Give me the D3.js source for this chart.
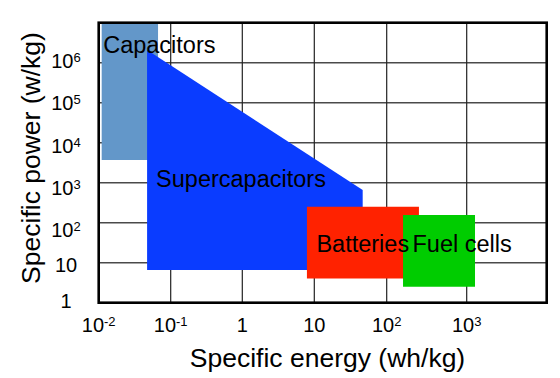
<!DOCTYPE html>
<html>
<head>
<meta charset="utf-8">
<script src="https://cdn.jsdelivr.net/npm/d3@7"></script>
<style>
  html, body { margin: 0; padding: 0; background: #fff; }
  svg { display: block; font-family: "Liberation Sans", Arial, Helvetica, sans-serif; }
</style>
</head>
<body>
<svg id="chart" width="560" height="378"></svg>
<script>
// ---- data ----
const energyTicks = [0.01, 0.1, 1, 10, 100, 1000];
const energyTickLabels = [["10", "-2"], ["10", "-1"], ["1", ""], ["10", ""], ["10", "2"], ["10", "3"]];
const powerTicks = [1, 10, 100, 1e3, 1e4, 1e5, 1e6];
const powerTickLabels = [["1", ""], ["10", ""], ["10", "2"], ["10", "3"], ["10", "4"], ["10", "5"], ["10", "6"]];

const categories = ["Capacitors", "Supercapacitors", "Batteries", "Fuel cells"];
// region outlines as [specific energy (wh/kg), specific power (w/kg)] vertices
const capacitors = [[0.011, 3700], [0.011, 1e7], [0.0667, 1e7], [0.0667, 3700]];
const supercapacitors = [[0.047, 6.6], [0.047, 2.08e6], [46.6, 657], [46.6, 6.6]];
const batteries = [[7.9, 4], [7.9, 251], [253, 251], [253, 4]];
const fuelCells = [[160, 2.5], [160, 155], [1270, 155], [1270, 2.5]];
const regions = [capacitors, supercapacitors, batteries, fuelCells];
const regionColors = ["#6397c9", "#0a3cff", "#ff2200", "#00cc00"];

const xTitle = "Specific energy (wh/kg)";
const yTitle = "Specific power (w/kg)";

// ---- layout ----
const svg = d3.select("#chart");
const x = d3.scaleLog()
  .domain([1e-2, 1e-1, 1, 10, 100, 1000, 1e4])
  .range([98.7, 170.7, 242.3, 314.3, 386.7, 466.7, 546.7]);
const y = d3.scaleLog().domain([1, 1e7]).range([302.7, 22.7]);
const yLabelPos = d3.scaleLog().domain([1, 10, 100, 1e6]).range([308, 272, 237, 68.3]);

const [x0, x1] = [x(1e-2), x(1e4)];
const [y0, y1] = [y(1), y(1e7)];

// gridlines
const grid = svg.append("g");
grid.selectAll("line.h").data(powerTicks.slice(1)).enter().append("line")
  .attr("x1", x0).attr("x2", x1)
  .attr("y1", d => y(d)).attr("y2", d => y(d))
  .attr("stroke", "#4a4a4a").attr("stroke-width", 1.5);
grid.selectAll("line.v").data(energyTicks.slice(1)).enter().append("line")
  .attr("y1", y1).attr("y2", y0)
  .attr("x1", d => x(d)).attr("x2", d => x(d))
  .attr("stroke", "#222").attr("stroke-width", 1.2);

// regions
const line = d3.line().x(d => x(d[0])).y(d => y(d[1]));
svg.append("g").selectAll("path").data(regions).enter().append("path")
  .attr("d", d => line(d) + "Z")
  .attr("fill", (d, i) => regionColors[i]);

// frame
svg.append("rect")
  .attr("x", x0).attr("y", y1).attr("width", x1 - x0).attr("height", y0 - y1)
  .attr("fill", "none").attr("stroke", "#000").attr("stroke-width", 2.6);

// region labels
const labelFont = 23.5;
const labelPlacement = [
  { x: x(capacitors[0][0]) + 1.5, y: 53.3 },
  { x: x(supercapacitors[0][0]) + 9, y: 187.3 },
  { x: x(batteries[0][0]) + 9.5, y: 251.7 },
  { x: x(fuelCells[0][0]) + 9.5, y: 251.7 }
];
svg.append("g").selectAll("text").data(categories).enter().append("text")
  .attr("x", (d, i) => labelPlacement[i].x)
  .attr("y", (d, i) => labelPlacement[i].y)
  .attr("font-size", labelFont).attr("fill", "#000")
  .text(d => d);

// tick labels
function tickText(sel, lab) {
  sel.append("tspan").attr("font-size", 20).text(lab[0]);
  if (lab[1]) sel.append("tspan").attr("font-size", 13).attr("dy", -6).text(lab[1]);
}
const xt = svg.append("g").selectAll("text").data(energyTicks).enter().append("text")
  .attr("x", d => x(d)).attr("y", 331.7).attr("text-anchor", "middle");
xt.each(function(d, i) { tickText(d3.select(this), energyTickLabels[i]); });

const yt = svg.append("g").selectAll("text").data(powerTicks).enter().append("text")
  .attr("x", 66).attr("y", d => yLabelPos(d)).attr("text-anchor", "middle");
yt.each(function(d, i) { tickText(d3.select(this), powerTickLabels[i]); });

// axis titles
svg.append("text").attr("x", 327.5).attr("y", 367.3).attr("text-anchor", "middle")
  .attr("font-size", 26.5).text(xTitle);
svg.append("text").attr("transform", "translate(39.5,158) rotate(-90)")
  .attr("text-anchor", "middle").attr("font-size", 26.5).text(yTitle);
</script>
</body>
</html>
